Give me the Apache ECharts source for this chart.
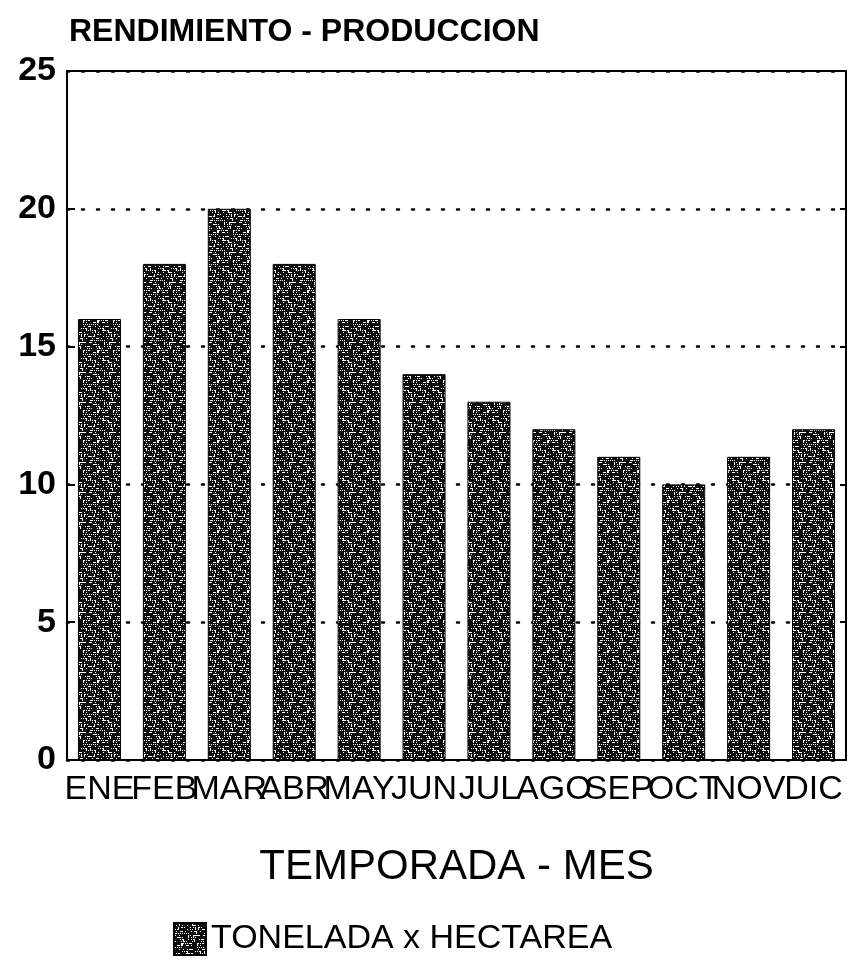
<!DOCTYPE html>
<html>
<head>
<meta charset="utf-8">
<script src="https://cdn.jsdelivr.net/npm/echarts@6/dist/echarts.min.js"></script>
<style>
html,body{margin:0;padding:0;background:#fff;}
#chart{width:849px;height:967px;}
</style>
</head>
<body>
<div id="chart"></div>
<script>
var titleText = "RENDIMIENTO - PRODUCCION";
var months = ["ENE","FEB","MAR","ABR","MAY","JUN","JUL","AGO","SEP","OCT","NOV","DIC"];
var seriesName = "TONELADA x HECTAREA";
var values = [16, 18, 20, 18, 16, 14, 13, 12, 11, 10, 11, 12];
var xAxisName = "TEMPORADA - MES";
var yTicks = [0, 5, 10, 15, 20, 25];

// stipple texture tile for the bars
function makeTexture() {
  var c = document.createElement('canvas');
  c.width = 30; c.height = 30;
  var g = c.getContext('2d');
  g.fillStyle = '#0d0d0d';
  g.fillRect(0, 0, 30, 30);
  g.fillStyle = '#fff';
  for (var y = 0; y < 30; y += 2) {
    for (var x = 0; x < 30; x++) {
      var h = (x * 7 + y * 11 + ((x * y) % 7)) % 13;
      if (h < 3) g.fillRect(x, y, 1, 1);
      if (h === 6 && x % 3 === 0) g.fillRect(x, y, 3, 1);
      if (h === 9 && y % 4 === 0) g.fillRect(x, y, 1, 3);
    }
  }
  return c;
}
var tex = makeTexture();

var chart = echarts.init(document.getElementById('chart'), null, {renderer: 'canvas'});
var font = "'Liberation Sans', Arial, sans-serif";
chart.setOption({
  backgroundColor: '#fff',
  animation: false,
  title: {
    text: titleText,
    left: 64, top: 11,
    textStyle: {fontFamily: font, fontWeight: 'bold', fontSize: 32, color: '#000'}
  },
  legend: {
    bottom: 6, left: 168,
    icon: 'rect',
    itemWidth: 32, itemHeight: 32, itemGap: 10,
    textStyle: {fontFamily: font, fontSize: 34, color: '#000'},
    data: [seriesName]
  },
  grid: {
    left: 67, right: 3, top: 71, bottom: 207,
    show: true, borderColor: '#000', borderWidth: 2, backgroundColor: 'transparent'
  },
  xAxis: {
    type: 'category',
    data: months,
    name: xAxisName,
    nameLocation: 'middle',
    nameGap: 86,
    nameTextStyle: {fontFamily: font, fontSize: 42, color: '#000'},
    axisLine: {show: true, lineStyle: {color: '#000', width: 2}},
    axisTick: {show: false},
    axisLabel: {interval: 0, fontFamily: font, fontSize: 34, color: '#000', margin: 13}
  },
  yAxis: [{
    type: 'value',
    min: 0, max: 25, interval: 5,
    axisLine: {show: true, lineStyle: {color: '#000', width: 2}},
    axisTick: {show: true, inside: true, length: 8, lineStyle: {color: '#000', width: 2}},
    axisLabel: {fontFamily: font, fontWeight: 'bold', fontSize: 34, color: '#000', margin: 11},
    splitLine: {show: true, lineStyle: {color: '#000', width: 2.5, type: [2, 13], cap: 'round'}}
  }, {
    type: 'value',
    position: 'right',
    min: 0, max: 25, interval: 5,
    axisLine: {show: true, lineStyle: {color: '#000', width: 2}},
    axisTick: {show: true, inside: true, length: 6, lineStyle: {color: '#000', width: 2}},
    axisLabel: {show: false},
    splitLine: {show: false}
  }],
  series: [{
    name: seriesName,
    type: 'bar',
    data: values,
    barWidth: 43,
    itemStyle: {
      color: {image: tex, repeat: 'repeat'},
      borderColor: '#000',
      borderWidth: 1
    }
  }]
});
</script>
</body>
</html>
